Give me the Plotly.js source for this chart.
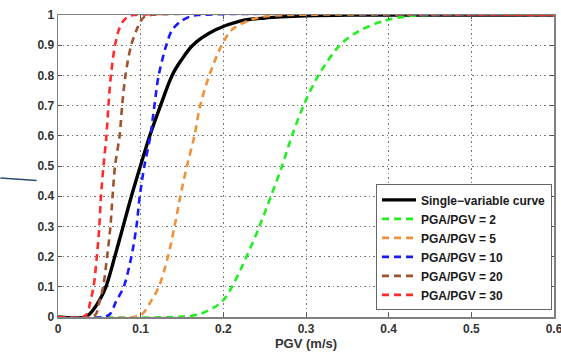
<!DOCTYPE html>
<html>
<head>
<meta charset="utf-8">
<script src="https://cdn.plot.ly/plotly-3.0.1.min.js"></script>
<style>html,body{margin:0;padding:0;background:#fff;overflow:hidden;}#chart{width:561px;height:355px;}</style>
</head>
<body>
<div id="chart"></div>
<script>
// Series names
const seriesNames = ["Single\u2212variable curve", "PGA/PGV = 2", "PGA/PGV = 5", "PGA/PGV = 10", "PGA/PGV = 20", "PGA/PGV = 30"];

// Single-variable curve
const singleX = [0, 0.033, 0.040, 0.049, 0.058, 0.0687, 0.0788, 0.0888, 0.0997, 0.111, 0.124, 0.138, 0.149, 0.163, 0.19, 0.22, 0.25, 0.30, 0.35, 0.6];
const singleY = [0, 0, 0.015, 0.05, 0.1, 0.2, 0.3, 0.4, 0.5, 0.6, 0.7, 0.8, 0.85, 0.9, 0.95, 0.98, 0.99, 0.997, 1, 1];

// Common probability levels for the dashed curves
const levelY = [0, 0, 0.01, 0.05, 0.1, 0.2, 0.3, 0.4, 0.5, 0.6, 0.7, 0.8, 0.9, 0.95, 0.98, 0.995, 1, 1];

// PGV values at those levels for each PGA/PGV ratio
const ratio2X  = [0, 0.14, 0.172, 0.198, 0.2105, 0.228, 0.2437, 0.2576, 0.271, 0.283, 0.297, 0.315, 0.341, 0.366, 0.394, 0.42, 0.45, 0.6];
const ratio5X  = [0, 0.092, 0.102, 0.112, 0.122, 0.133, 0.141, 0.148, 0.156, 0.165, 0.172, 0.183, 0.198, 0.21, 0.229, 0.25, 0.28, 0.6];
const ratio10X = [0, 0.055, 0.063, 0.070, 0.0795, 0.0888, 0.0949, 0.0989, 0.1045, 0.1118, 0.1166, 0.1218, 0.131, 0.138, 0.149, 0.16, 0.17, 0.6];
const ratio20X = [0, 0.040, 0.046, 0.050, 0.0546, 0.0594, 0.0634, 0.066, 0.069, 0.0745, 0.0776, 0.0816, 0.0885, 0.095, 0.100, 0.105, 0.112, 0.6];
const ratio30X = [0, 0.030, 0.035, 0.039, 0.043, 0.047, 0.050, 0.052, 0.055, 0.0586, 0.061, 0.064, 0.069, 0.0735, 0.079, 0.085, 0.092, 0.6];

// Axis ticks
const xTicks = [0, 0.1, 0.2, 0.3, 0.4, 0.5, 0.6];
const xTickLabels = ["0", "0.1", "0.2", "0.3", "0.4", "0.5", "0.6"];
const yTicks = [0, 0.1, 0.2, 0.3, 0.4, 0.5, 0.6, 0.7, 0.8, 0.9, 1];
const yTickLabels = ["0", "0.1", "0.2", "0.3", "0.4", "0.5", "0.6", "0.7", "0.8", "0.9", "1"];

const colors = ["#000000", "#22ee22", "#f0913a", "#1a1aff", "#a0522d", "#ff2a2a"];
const dashPat = "7px,5px";

function mk(x, y, i, dash) {
  return {
    x: x, y: y, name: seriesNames[i], type: "scatter", mode: "lines",
    line: {color: colors[i], width: dash ? 2.6 : 3.4, dash: dash ? dashPat : "solid", shape: "spline", smoothing: 0.9},
    hoverinfo: "skip"
  };
}

const traces = [
  mk(singleX, singleY, 0, false),
  mk(ratio2X, levelY, 1, true),
  mk(ratio5X, levelY, 2, true),
  mk(ratio10X, levelY, 3, true),
  mk(ratio20X, levelY, 4, true),
  mk(ratio30X, levelY, 5, true)
];

const fam = "Arial, 'Liberation Sans', sans-serif";
const tickFont = {family: fam, size: 12, color: "#333", weight: "bold"};

const layout = {
  width: 561, height: 355,
  margin: {l: 58, r: 7, t: 15, b: 38},
  paper_bgcolor: "#fff", plot_bgcolor: "#fff",
  showlegend: true,
  legend: {
    x: 0.996, y: 0.022, xanchor: "right", yanchor: "bottom",
    bgcolor: "#fff", bordercolor: "#666", borderwidth: 1,
    font: {family: fam, size: 12, color: "#1a1a1a", weight: "bold"},
    tracegroupgap: 0, itemwidth: 34
  },
  xaxis: {
    range: [0, 0.6], tickvals: xTicks, ticktext: xTickLabels,
    showgrid: true, gridcolor: "#777", griddash: "1.5px,3px", gridwidth: 1,
    zeroline: false, showline: true, linecolor: "#808080", linewidth: 1.5, mirror: "allticks",
    ticks: "inside", ticklen: 4, tickcolor: "#555",
    tickfont: tickFont, ticklabeloverflow: "allow",
    title: {text: "PGV (m/s)", font: {family: fam, size: 13, color: "#333", weight: "bold"}, standoff: 2}
  },
  yaxis: {
    range: [0, 1], tickvals: yTicks, ticktext: yTickLabels,
    showgrid: true, gridcolor: "#777", griddash: "1.5px,3px", gridwidth: 1,
    zeroline: false, showline: true, linecolor: "#808080", linewidth: 1.5, mirror: "allticks",
    ticks: "inside", ticklen: 4, tickcolor: "#555",
    tickfont: tickFont, ticklabeloverflow: "allow"
  },
  shapes: [{
    type: "line", xref: "paper", yref: "paper",
    x0: -0.116, y0: 0.46, x1: -0.043, y1: 0.452,
    line: {color: "#2c4d75", width: 1.5}
  }]
};

Plotly.newPlot("chart", traces, layout, {displayModeBar: false, staticPlot: true});
</script>
</body>
</html>
